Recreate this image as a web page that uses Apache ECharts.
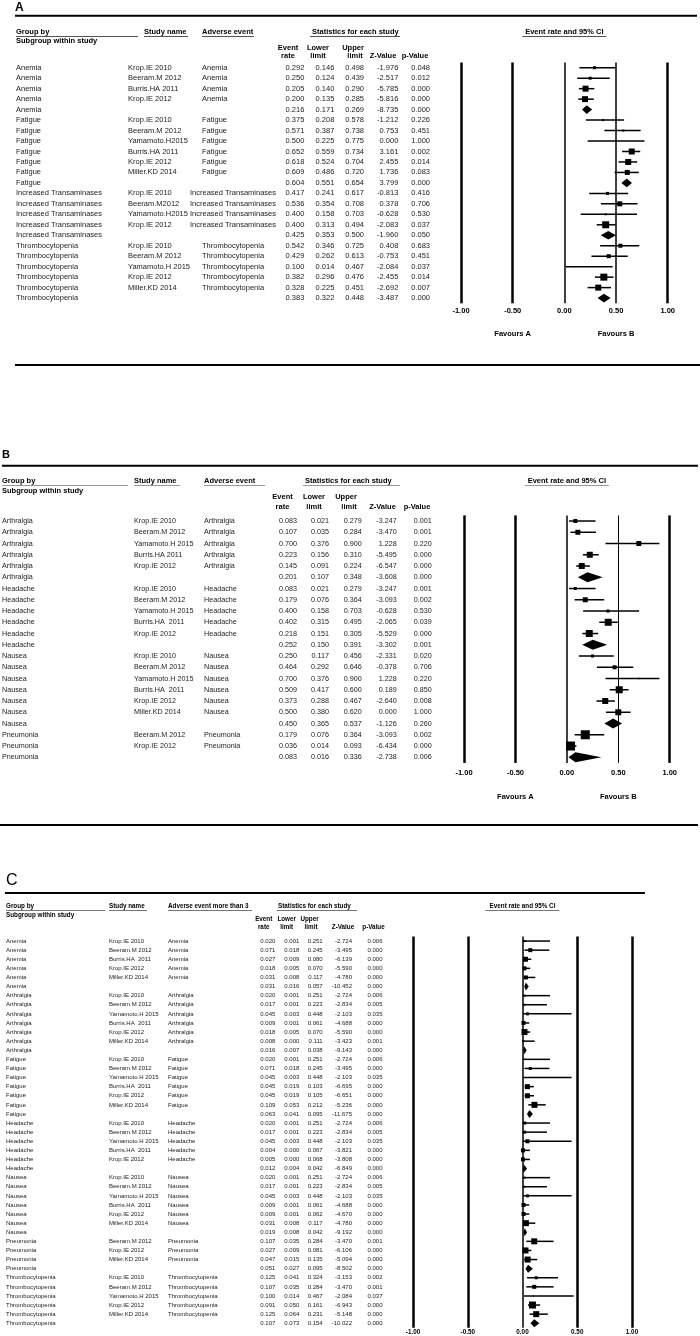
<!DOCTYPE html>
<html>
<head>
<meta charset="utf-8">
<title>Forest plots A-C</title>
<script src="https://cdn.jsdelivr.net/npm/echarts@6/dist/echarts.min.js"></script>
<style>
  html, body { margin: 0; padding: 0; background: #fff; }
  #main { width: 700px; height: 1336px; }
</style>
</head>
<body>
<div id="main"></div>
<script>
// ---------------- data: panel A ----------------
var aGroup = ['Anemia','Anemia','Anemia','Anemia','Anemia',
  'Fatigue','Fatigue','Fatigue','Fatigue','Fatigue','Fatigue','Fatigue',
  'Increased Transaminases','Increased Transaminases','Increased Transaminases','Increased Transaminases','Increased Transaminases',
  'Thrombocytopenia','Thrombocytopenia','Thrombocytopenia','Thrombocytopenia','Thrombocytopenia','Thrombocytopenia'];
var aStudy = ['Krop.IE 2010','Beeram.M 2012','Burris.HA 2011','Krop.IE 2012','',
  'Krop.IE 2010','Beeram.M 2012','Yamamoto.H2015','Burris.HA 2011','Krop.IE 2012','Miller.KD 2014','',
  'Krop.IE 2010','Beeram.M2012','Yamamoto.H2015','Krop.IE 2012','',
  'Krop.IE 2010','Beeram.M 2012','Yamamoto.H 2015','Krop.IE 2012','Miller.KD 2014',''];
var aRate  = [0.292,0.250,0.205,0.200,0.216, 0.375,0.571,0.500,0.652,0.618,0.609,0.604, 0.417,0.536,0.400,0.400,0.425, 0.542,0.429,0.100,0.382,0.328,0.383];
var aLower = [0.146,0.124,0.140,0.135,0.171, 0.208,0.387,0.225,0.559,0.524,0.486,0.551, 0.241,0.354,0.158,0.313,0.353, 0.346,0.262,0.014,0.296,0.225,0.322];
var aUpper = [0.498,0.439,0.290,0.285,0.269, 0.578,0.738,0.775,0.734,0.704,0.720,0.654, 0.617,0.708,0.703,0.494,0.500, 0.725,0.613,0.467,0.476,0.451,0.448];
var aZ     = [-1.976,-2.517,-5.785,-5.816,-8.735, -1.212,0.753,0.000,3.161,2.455,1.736,3.799, -0.813,0.378,-0.628,-2.083,-1.960, 0.408,-0.753,-2.084,-2.455,-2.692,-3.487];
var aP     = [0.048,0.012,0.000,0.000,0.000, 0.226,0.451,1.000,0.002,0.014,0.083,0.000, 0.416,0.706,0.530,0.037,0.050, 0.683,0.451,0.037,0.014,0.007,0.000];
// relative study weight (0 = pooled subgroup estimate)
var aWeight = [3,3,6,6,0, 2,2,1,6,6,5,0, 3,5,2,7,0, 4,4,1,7,6,0];

// ---------------- data: panel B ----------------
var bGroup = ['Arthralgia','Arthralgia','Arthralgia','Arthralgia','Arthralgia','Arthralgia',
  'Headache','Headache','Headache','Headache','Headache','Headache',
  'Nausea','Nausea','Nausea','Nausea','Nausea','Nausea','Nausea',
  'Pneumonia','Pneumonia','Pneumonia'];
var bStudy = ['Krop.IE 2010','Beeram.M 2012','Yamamoto.H 2015','Burris.HA 2011','Krop.IE 2012','',
  'Krop.IE 2010','Beeram.M 2012','Yamamoto.H 2015','Burris.HA  2011','Krop.IE 2012','',
  'Krop.IE 2010','Beeram.M 2012','Yamamoto.H 2015','Burris.HA  2011','Krop.IE 2012','Miller.KD 2014','',
  'Beeram.M 2012','Krop.IE 2012',''];
var bRate  = [0.083,0.107,0.700,0.223,0.145,0.201, 0.083,0.179,0.400,0.402,0.218,0.252, 0.250,0.464,0.700,0.509,0.373,0.500,0.450, 0.179,0.036,0.083];
var bLower = [0.021,0.035,0.376,0.156,0.091,0.107, 0.021,0.076,0.158,0.315,0.151,0.150, 0.117,0.292,0.376,0.417,0.288,0.380,0.365, 0.076,0.014,0.016];
var bUpper = [0.279,0.284,0.900,0.310,0.224,0.348, 0.279,0.364,0.703,0.495,0.305,0.391, 0.456,0.646,0.900,0.600,0.467,0.620,0.537, 0.364,0.093,0.336];
var bZ     = [-3.247,-3.470,1.228,-5.495,-6.547,-3.608, -3.247,-3.093,-0.628,-2.065,-5.529,-3.302, -2.331,-0.378,1.228,0.189,-2.640,0.000,-1.126, -3.093,-6.434,-2.738];
var bP     = [0.001,0.001,0.220,0.000,0.000,0.000, 0.001,0.002,0.530,0.039,0.000,0.001, 0.020,0.706,0.220,0.850,0.008,1.000,0.260, 0.002,0.000,0.006];
var bWeight = [4,5,5,6,6,0, 3,5,3,7,7,0, 3,4,1.5,7,6,6,0, 9,9,0];

// ---------------- data: panel C ----------------
var cGroup = ['Anemia','Anemia','Anemia','Anemia','Anemia','Anemia',
  'Arthralgia','Arthralgia','Arthralgia','Arthralgia','Arthralgia','Arthralgia','Arthralgia',
  'Fatigue','Fatigue','Fatigue','Fatigue','Fatigue','Fatigue','Fatigue',
  'Headache','Headache','Headache','Headache','Headache','Headache',
  'Nausea','Nausea','Nausea','Nausea','Nausea','Nausea','Nausea',
  'Pneumonia','Pneumonia','Pneumonia','Pneumonia',
  'Thrombocytopenia','Thrombocytopenia','Thrombocytopenia','Thrombocytopenia','Thrombocytopenia','Thrombocytopenia'];
var cStudy = ['Krop.IE 2010','Beeram.M 2012','Burris.HA  2011','Krop.IE 2012','Miller.KD 2014','',
  'Krop.IE 2010','Beeram.M 2012','Yamamoto.H 2015','Burris.HA  2011','Krop.IE 2012','Miller.KD 2014','',
  'Krop.IE 2010','Beeram.M 2012','Yamamoto.H 2015','Burris.HA  2011','Krop.IE 2012','Miller.KD 2014','',
  'Krop.IE 2010','Beeram.M 2012','Yamamoto.H 2015','Burris.HA  2011','Krop.IE 2012','',
  'Krop.IE 2010','Beeram.M 2012','Yamamoto.H 2015','Burris.HA  2011','Krop.IE 2012','Miller.KD 2014','',
  'Beeram.M 2012','Krop.IE 2012','Miller.KD 2014','',
  'Krop.IE 2010','Beeram.M 2012','Yamamoto.H 2015','Krop.IE 2012','Miller.KD 2014',''];
var cRate  = [0.020,0.071,0.027,0.018,0.031,0.031, 0.020,0.017,0.045,0.009,0.018,0.008,0.016, 0.020,0.071,0.045,0.045,0.045,0.109,0.063,
  0.020,0.017,0.045,0.004,0.005,0.012, 0.020,0.017,0.045,0.009,0.009,0.031,0.019, 0.107,0.027,0.047,0.051, 0.125,0.107,0.100,0.091,0.125,0.107];
var cLower = [0.001,0.018,0.009,0.005,0.008,0.016, 0.001,0.001,0.003,0.001,0.005,0.000,0.007, 0.001,0.018,0.003,0.019,0.019,0.053,0.041,
  0.001,0.001,0.003,0.000,0.000,0.004, 0.001,0.001,0.003,0.001,0.001,0.008,0.008, 0.035,0.009,0.015,0.027, 0.041,0.035,0.014,0.050,0.064,0.073];
var cUpper = [0.251,0.245,0.080,0.070,0.117,0.057, 0.251,0.223,0.448,0.061,0.070,0.111,0.038, 0.251,0.245,0.448,0.103,0.105,0.212,0.095,
  0.251,0.223,0.448,0.067,0.068,0.042, 0.251,0.223,0.448,0.061,0.062,0.117,0.042, 0.284,0.081,0.135,0.095, 0.324,0.284,0.467,0.161,0.231,0.154];
var cZ     = [-2.724,-3.495,-6.139,-5.590,-4.780,-10.452, -2.724,-2.834,-2.103,-4.688,-5.590,-3.423,-9.143, -2.724,-3.495,-2.103,-6.695,-6.651,-5.236,-11.675,
  -2.724,-2.834,-2.103,-3.821,-3.808,-6.849, -2.724,-2.834,-2.103,-4.688,-4.670,-4.780,-9.192, -3.470,-6.106,-5.094,-8.502, -3.153,-3.470,-2.084,-6.943,-5.148,-10.022];
var cP     = [0.006,0.000,0.000,0.000,0.000,0.000, 0.006,0.005,0.035,0.000,0.000,0.001,0.000, 0.006,0.000,0.035,0.000,0.000,0.000,0.000,
  0.006,0.005,0.035,0.000,0.000,0.000, 0.006,0.005,0.035,0.000,0.000,0.000,0.000, 0.001,0.000,0.000,0.000, 0.002,0.001,0.037,0.000,0.000,0.000];
var cWeight = [2,4,5,4,4,0, 2,2,3,4,6,2,0, 1,3,1,5,5,6,0, 3,3,4,4,4,0, 2,2,3,4,4,6,0, 6,6,6,0, 3,4,1,7,6,0];

var xTicks = [-1, -0.5, 0, 0.5, 1];

// ---------------- layout ----------------
var FF = '"Liberation Sans", Arial, sans-serif';
var panels = [
  { group: aGroup, study: aStudy, rate: aRate, lower: aLower, upper: aUpper, z: aZ, p: aP, weight: aWeight,
    top: 62.5, rowH: 10.47, axL: 461, axR: 667.7, font: 7.5, hfont: 7.5, diamond: 4.3,
    colGroup: 16, colStudy: 128, colAE: 202, colAELong: 190, numRight: [304.3, 334.3, 364, 398.3, 430],
    lineW: [2.5, 2.5, 1.5, 1.5, 2.5], labelMargin: 4 },
  { group: bGroup, study: bStudy, rate: bRate, lower: bLower, upper: bUpper, z: bZ, p: bP, weight: bWeight,
    top: 515.4, rowH: 11.25, axL: 464, axR: 669.7, font: 7.2, hfont: 7.5, diamond: 5,
    colGroup: 2, colStudy: 134, colAE: 204, colAELong: 204, numRight: [297, 329, 361.7, 396.7, 431.7],
    lineW: [2.5, 2.5, 1.5, 1, 2.5], labelMargin: 6 },
  { group: cGroup, study: cStudy, rate: cRate, lower: cLower, upper: cUpper, z: cZ, p: cP, weight: cWeight,
    top: 936.5, rowH: 9.1, axL: 413, axR: 632, font: 6, hfont: 6.3, diamond: 4,
    colGroup: 6, colStudy: 109, colAE: 168, colAELong: 168, numRight: [275.3, 299.3, 322.7, 352, 382.5],
    lineW: [2.5, 2.5, 1.5, 2.5, 2.5], labelMargin: 1 }
];

function xPix(pn, v) { return pn.axL + (v + 1) / 2 * (pn.axR - pn.axL); }

function txt(x, y, s, font, align, color) {
  return { type: 'text', x: x, y: y, silent: true,
    style: { text: s, font: font, fill: color || '#000', align: align || 'left', verticalAlign: 'middle',
             textAlign: align || 'left', textVerticalAlign: 'middle' } };
}
function hline(x1, x2, y, w, c) {
  return { type: 'line', silent: true, shape: { x1: x1, y1: y, x2: x2, y2: y },
    style: { stroke: c || '#000', lineWidth: w || 1 } };
}
function bold(sz) { return 'bold ' + sz + 'px ' + FF; }

// ---------------- header graphics ----------------
var graphics = [];
// panel A
graphics.push(txt(15, 8, 'A', bold(12)));
graphics.push(hline(15, 697, 15.7, 2));
graphics.push(txt(16, 32, 'Group by', bold(7.5)), hline(16, 138, 36.5, 1.2, '#555'));
graphics.push(txt(16, 40.7, 'Subgroup within study', bold(7.5)));
graphics.push(txt(144, 32, 'Study name', bold(7.5)), hline(144, 188, 36.5, 1.2, '#555'));
graphics.push(txt(202, 32, 'Adverse event', bold(7.5)), hline(202, 254, 36.5, 1.2, '#555'));
graphics.push(txt(312, 32, 'Statistics for each study', bold(7.5)), hline(310, 400, 36.5, 1.2, '#555'));
graphics.push(txt(xPix(panels[0], 0), 32, 'Event rate and 95% CI', bold(7.5), 'center'),
  hline(xPix(panels[0], 0) - 42, xPix(panels[0], 0) + 42, 36.5, 1.2, '#555'));
graphics.push(txt(288, 47.5, 'Event', bold(7.5), 'center'), txt(288, 55.5, 'rate', bold(7.5), 'center'));
graphics.push(txt(318, 47.5, 'Lower', bold(7.5), 'center'), txt(318, 55.5, 'limit', bold(7.5), 'center'));
graphics.push(txt(353, 47.5, 'Upper', bold(7.5), 'center'), txt(355, 55.5, 'limit', bold(7.5), 'center'));
graphics.push(txt(383, 55.5, 'Z-Value', bold(7.5), 'center'), txt(415, 55.5, 'p-Value', bold(7.5), 'center'));
graphics.push(txt(xPix(panels[0], -0.5), 334, 'Favours A', bold(7.5), 'center'));
graphics.push(txt(xPix(panels[0], 0.5), 334, 'Favours B', bold(7.5), 'center'));
graphics.push(hline(15, 700, 365, 2));
// panel B
graphics.push(txt(2, 455, 'B', bold(11)));
graphics.push(hline(2, 698, 465.7, 2));
graphics.push(txt(2, 481, 'Group by', bold(7.5)), hline(2, 128, 485.5, 1.2, '#999'));
graphics.push(txt(2, 490.7, 'Subgroup within study', bold(7.5)));
graphics.push(txt(134, 481, 'Study name', bold(7.5)), hline(134, 180, 485.5, 1.2, '#999'));
graphics.push(txt(204, 481, 'Adverse event', bold(7.5)), hline(204, 265, 485.5, 1.2, '#999'));
graphics.push(txt(305, 481, 'Statistics for each study', bold(7.5)), hline(303, 400, 485.5, 1.2, '#999'));
graphics.push(txt(xPix(panels[1], 0), 481, 'Event rate and 95% CI', bold(7.5), 'center'),
  hline(xPix(panels[1], 0) - 42, xPix(panels[1], 0) + 42, 485.5, 1.2, '#999'));
graphics.push(txt(282.5, 497.3, 'Event', bold(7.5), 'center'), txt(282.5, 506.7, 'rate', bold(7.5), 'center'));
graphics.push(txt(314, 497.3, 'Lower', bold(7.5), 'center'), txt(314, 506.7, 'limit', bold(7.5), 'center'));
graphics.push(txt(346, 497.3, 'Upper', bold(7.5), 'center'), txt(349, 506.7, 'limit', bold(7.5), 'center'));
graphics.push(txt(382.5, 506.7, 'Z-Value', bold(7.5), 'center'), txt(417, 506.7, 'p-Value', bold(7.5), 'center'));
graphics.push(txt(xPix(panels[1], -0.5), 797, 'Favours A', bold(7.5), 'center'));
graphics.push(txt(xPix(panels[1], 0.5), 797, 'Favours B', bold(7.5), 'center'));
graphics.push(hline(0, 698, 825, 2));
// panel C
graphics.push(txt(6, 881, 'C', '16px ' + FF));
graphics.push(hline(5, 645, 893, 2));
graphics.push(txt(6, 906.7, 'Group by', bold(6.3)), hline(6, 105, 910.5, 1.2, '#777'));
graphics.push(txt(6, 915, 'Subgroup within study', bold(6.3)));
graphics.push(txt(109, 906.7, 'Study name', bold(6.3)), hline(109, 147, 910.5, 1.2, '#777'));
graphics.push(txt(168, 906.7, 'Adverse event more than 3', bold(6.3)), hline(168, 252, 910.5, 1.2, '#777'));
graphics.push(txt(278, 906.7, 'Statistics for each study', bold(6.3)), hline(277, 357, 910.5, 1.2, '#777'));
graphics.push(txt(xPix(panels[2], 0), 906.7, 'Event rate and 95% CI', bold(6.3), 'center'),
  hline(xPix(panels[2], 0) - 37, xPix(panels[2], 0) + 37, 910.5, 1.2, '#777'));
graphics.push(txt(263.7, 919.3, 'Event', bold(6.3), 'center'), txt(263.7, 927, 'rate', bold(6.3), 'center'));
graphics.push(txt(286.7, 919.3, 'Lower', bold(6.3), 'center'), txt(286.7, 927, 'limit', bold(6.3), 'center'));
graphics.push(txt(309.5, 919.3, 'Upper', bold(6.3), 'center'), txt(311, 927, 'limit', bold(6.3), 'center'));
graphics.push(txt(343, 927, 'Z-Value', bold(6.3), 'center'), txt(373.5, 927, 'p-Value', bold(6.3), 'center'));

// ---------------- series ----------------
var grids = [], xAxes = [], yAxes = [], series = [];

panels.forEach(function (pn, k) {
  var n = pn.rate.length;
  grids.push({ left: pn.axL, width: pn.axR - pn.axL, top: pn.top, height: n * pn.rowH });
  xAxes.push({
    gridIndex: k, type: 'value', min: -1, max: 1, interval: 0.5,
    axisLine: { show: false }, axisTick: { show: false }, splitLine: { show: false },
    axisLabel: { margin: pn.labelMargin, fontSize: pn.hfont, fontWeight: 'bold', fontFamily: FF, color: '#000',
      formatter: function (v) { return v.toFixed(2); } }
  });
  yAxes.push({ gridIndex: k, type: 'value', min: -0.5, max: n - 0.5, inverse: true, show: false });

  var rowData = [], forestData = [];
  for (var i = 0; i < n; i++) {
    rowData.push([0, i]);
    forestData.push([pn.rate[i], i, pn.lower[i], pn.upper[i], pn.weight[i]]);
  }

  // table text, placed on the rows of the y axis
  series.push({
    type: 'custom', xAxisIndex: k, yAxisIndex: k, silent: true, clip: false,
    data: rowData,
    renderItem: function (params, api) {
      var i = api.value(1);
      var y = api.coord([0, i])[1];
      var f = pn.font + 'px ' + FF, col = '#222';
      var grp = pn.group[i], st = pn.study[i];
      var ae = st ? grp : '';
      var aeX = ae.length > 18 ? pn.colAELong : pn.colAE;
      var vals = [pn.rate[i], pn.lower[i], pn.upper[i], pn.z[i], pn.p[i]];
      var kids = [txt(pn.colGroup, y, grp, f, 'left', col), txt(pn.colStudy, y, st, f, 'left', col),
                  txt(aeX, y, ae, f, 'left', col)];
      vals.forEach(function (v, j) { kids.push(txt(pn.numRight[j], y, v.toFixed(3), f, 'right', col)); });
      return { type: 'group', children: kids };
    }
  });

  // forest marks: CI line + weighted box, diamond for pooled rows
  series.push({
    type: 'custom', xAxisIndex: k, yAxisIndex: k, silent: true, clip: false,
    data: forestData,
    renderItem: function (params, api) {
      var i = api.value(1);
      var pe = api.coord([api.value(0), i]);
      var pl = api.coord([api.value(2), i]);
      var ph = api.coord([api.value(3), i]);
      var w = api.value(4);
      if (!w) {
        var h = pn.diamond;
        return { type: 'polygon',
          shape: { points: [[pl[0], pe[1]], [pe[0], pe[1] - h], [ph[0], pe[1]], [pe[0], pe[1] + h]] },
          style: { fill: '#000' } };
      }
      return { type: 'group', children: [
        { type: 'line', shape: { x1: pl[0], y1: pe[1], x2: ph[0], y2: pe[1] }, style: { stroke: '#000', lineWidth: 1.5 } },
        { type: 'rect', shape: { x: pe[0] - w / 2, y: pe[1] - w / 2, width: w, height: w }, style: { fill: '#000' } }
      ] };
    },
    markLine: {
      silent: true, symbol: 'none', label: { show: false },
      data: xTicks.map(function (v, j) { return { xAxis: v, lineStyle: { color: '#000', type: 'solid', width: pn.lineW[j] } }; })
    }
  });
});

var myChart = echarts.init(document.getElementById('main'));
var option = {
  animation: false,
  backgroundColor: '#fff',
  grid: grids,
  xAxis: xAxes,
  yAxis: yAxes,
  graphic: graphics,
  series: series
};
myChart.setOption(option);
</script>
</body>
</html>
